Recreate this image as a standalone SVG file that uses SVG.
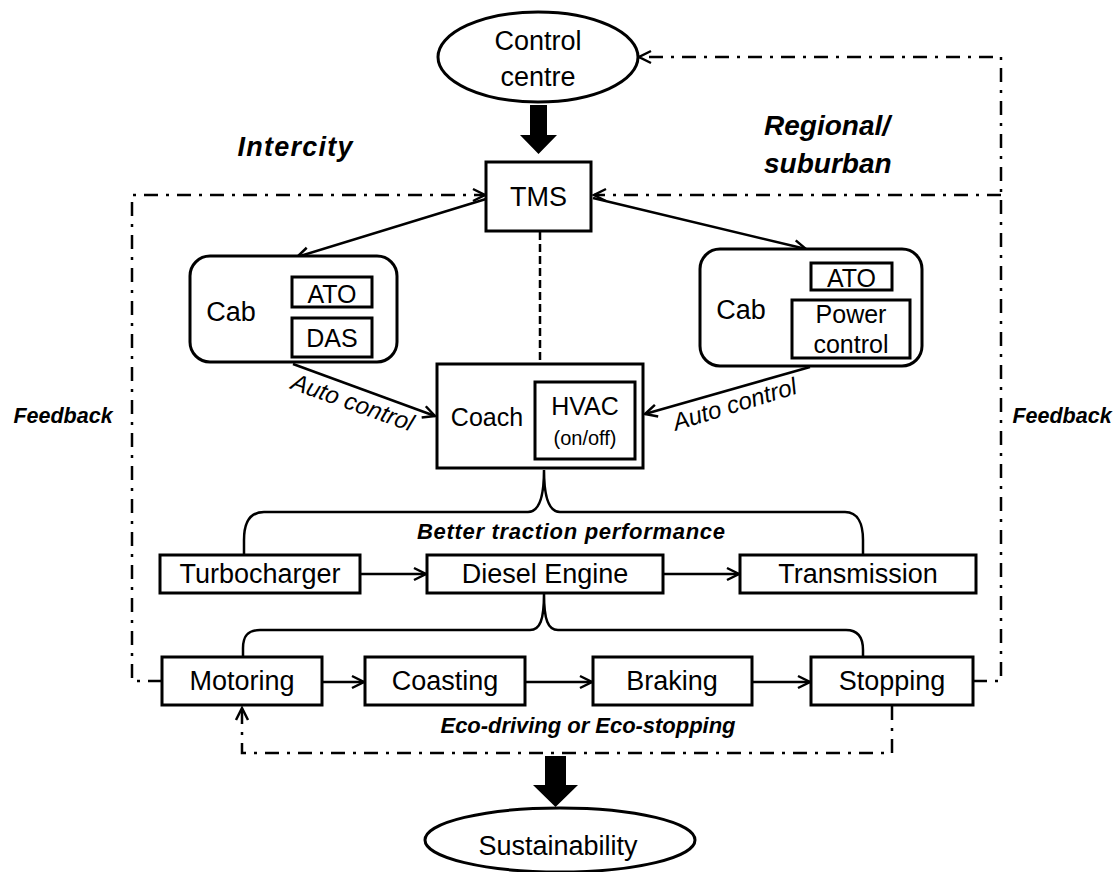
<svg xmlns="http://www.w3.org/2000/svg" width="1119" height="872" viewBox="0 0 1119 872">
<style>
text{font-family:"Liberation Sans",Arial,sans-serif;fill:#000}
.n{font-size:27px;text-anchor:middle}
.s{font-size:25px;text-anchor:middle}
.bi{font-weight:bold;font-style:italic;text-anchor:middle}
.it{font-style:italic;font-size:24px;text-anchor:middle}
.box{fill:#fff;stroke:#000;stroke-width:3}
.ln{fill:none;stroke:#000;stroke-width:2.5}
.dd{fill:none;stroke:#000;stroke-width:2.5;stroke-dasharray:14 8 3 8}
.da{fill:none;stroke:#000;stroke-width:2.5;stroke-dasharray:8 4}
.big{fill:#000}
</style>
<defs>
<marker id="ah" markerUnits="userSpaceOnUse" markerWidth="20" markerHeight="20" viewBox="-14 -10 20 20" refX="0" refY="0" orient="auto" overflow="visible">
<path d="M-12,-6 L0,0 L-12,6" fill="none" stroke="#000" stroke-width="2.5" stroke-linejoin="miter"/>
</marker>
</defs>

<g id="labels">
<text class="bi" x="295" y="156" font-size="27" textLength="115">Intercity</text>
<text x="764" y="135" font-size="28" font-weight="bold" font-style="italic">Regional/</text>
<text x="764" y="173" font-size="28" font-weight="bold" font-style="italic">suburban</text>
<text class="bi" x="63" y="423" font-size="21.5">Feedback</text>
<text class="bi" x="1062" y="423" font-size="21.5">Feedback</text>
<text class="bi" x="571" y="539" font-size="22" textLength="308">Better traction performance</text>
<text class="bi" x="588" y="733" font-size="22" textLength="295">Eco-driving or Eco-stopping</text>
</g>

<g id="connectors">
<polygon class="big" points="530,105 547,105 547,135 557,135 538.5,154 520,135 530,135"/>
<polygon class="big" points="545,756 566,756 566,785 578,785 555.5,807 533,785 545,785"/>
<line class="ln" x1="486" y1="199" x2="297" y2="257" marker-end="url(#ah)"/>
<line class="ln" x1="593" y1="198" x2="806" y2="249" marker-end="url(#ah)"/>
<line class="da" x1="540" y1="232" x2="540" y2="364"/>
<line class="ln" x1="293" y1="364" x2="435" y2="416" marker-end="url(#ah)"/>
<line class="ln" x1="810" y1="367" x2="645" y2="414" marker-end="url(#ah)"/>
<g transform="translate(350,410) rotate(19.6)"><text class="it" x="0" y="0">Auto control</text></g>
<g transform="translate(737,412) rotate(-17)"><text class="it" x="0" y="0">Auto control</text></g>
<path class="ln" d="M244 554 L244 540 C244 522 250 512 264 512 L528 512 C538 512 544 500 544 470 C544 500 550 512 560 512 L845 512 C858 512 863 524 863 540 L863 554"/>
<path class="ln" d="M243 657 L243 648 C243 636 248 630 260 630 L530 630 C540 630 544 620 544 594 C544 620 548 630 558 630 L846 630 C858 630 863 638 863 650 L863 657"/>
<line class="ln" x1="360" y1="574" x2="426" y2="574" marker-end="url(#ah)"/>
<line class="ln" x1="663" y1="574" x2="739" y2="574" marker-end="url(#ah)"/>
<line class="ln" x1="322" y1="682" x2="364" y2="682" marker-end="url(#ah)"/>
<line class="ln" x1="525" y1="682" x2="592" y2="682" marker-end="url(#ah)"/>
<line class="ln" x1="752" y1="682" x2="810" y2="682" marker-end="url(#ah)"/>
<path class="dd" d="M162 681 L132 681 L132 195 L485 195" marker-end="url(#ah)"/>
<path class="dd" d="M973 681 L1001 681 L1001 57 L639 57" marker-end="url(#ah)"/>
<path class="dd" d="M1001 195 L594 195" marker-end="url(#ah)"/>
<path class="dd" d="M892 706 L892 753 L242 753 L242 708" marker-end="url(#ah)"/>
</g>

<g id="control-centre">
<ellipse class="box" cx="538" cy="57" rx="100" ry="45" stroke-width="2.5"/>
<text class="n" x="538" y="50">Control</text>
<text class="n" x="538" y="86">centre</text>
</g>

<g id="tms">
<rect class="box" x="486" y="162" width="105" height="69"/>
<text class="n" x="538.5" y="206">TMS</text>
</g>

<g id="cab-intercity">
<rect class="box" x="190" y="256" width="207" height="106" rx="20" ry="20"/>
<text class="n" x="231" y="321">Cab</text>
<rect class="box" x="292" y="277" width="80" height="30"/>
<text class="s" x="332" y="303">ATO</text>
<rect class="box" x="292" y="318" width="80" height="39"/>
<text class="s" x="332" y="347">DAS</text>
</g>

<g id="cab-regional">
<rect class="box" x="700" y="249" width="222" height="117" rx="20" ry="20"/>
<text class="n" x="741" y="319">Cab</text>
<rect class="box" x="811" y="263" width="81" height="27"/>
<text class="s" x="851.5" y="287">ATO</text>
<rect class="box" x="792" y="300" width="118" height="58"/>
<text class="s" x="851" y="323">Power</text>
<text class="s" x="851" y="353">control</text>
</g>

<g id="coach">
<rect class="box" x="437" y="364" width="206" height="104"/>
<text class="s" x="487" y="426">Coach</text>
<rect class="box" x="535" y="382" width="100" height="77"/>
<text class="s" x="585" y="415">HVAC</text>
<text x="585" y="445" font-size="20" text-anchor="middle">(on/off)</text>
</g>

<g id="turbocharger">
<rect class="box" x="160" y="555" width="200" height="38"/>
<text class="n" x="260" y="583">Turbocharger</text>
</g>
<g id="diesel-engine">
<rect class="box" x="427" y="555" width="236" height="38"/>
<text class="n" x="545" y="583">Diesel Engine</text>
</g>
<g id="transmission">
<rect class="box" x="740" y="555" width="236" height="38"/>
<text class="n" x="858" y="583">Transmission</text>
</g>

<g id="motoring">
<rect class="box" x="162" y="657" width="160" height="48"/>
<text class="n" x="242" y="690">Motoring</text>
</g>
<g id="coasting">
<rect class="box" x="365" y="657" width="160" height="48"/>
<text class="n" x="445" y="690">Coasting</text>
</g>
<g id="braking">
<rect class="box" x="593" y="657" width="159" height="48"/>
<text class="n" x="672" y="690">Braking</text>
</g>
<g id="stopping">
<rect class="box" x="811" y="657" width="162" height="48"/>
<text class="n" x="892" y="690">Stopping</text>
</g>

<g id="sustainability">
<ellipse class="box" cx="560" cy="840" rx="135" ry="32" stroke-width="2.5"/>
<text class="n" x="558" y="855">Sustainability</text>
</g>
</svg>
